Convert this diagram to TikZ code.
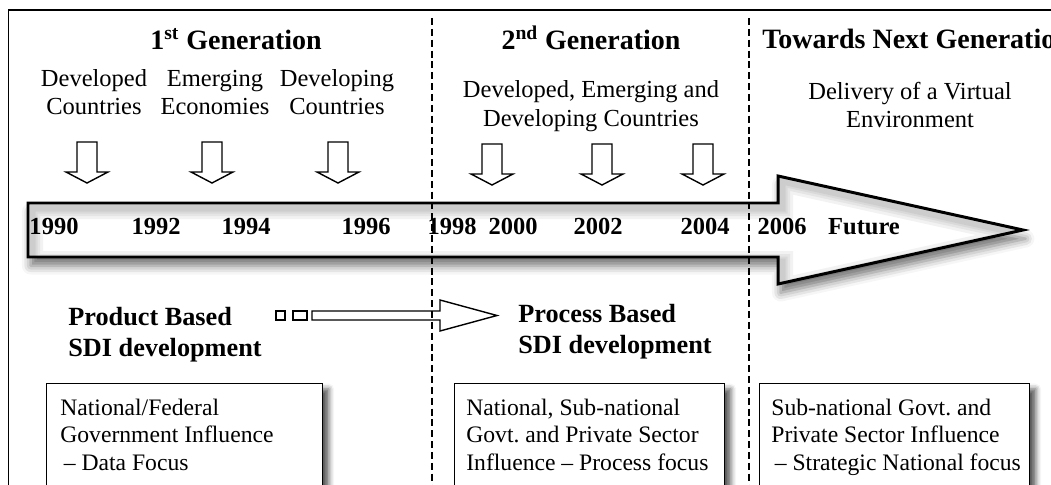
\documentclass[tikz,border=0pt]{standalone}
\usepackage{fontspec}
\setmainfont{Liberation Serif}
\usetikzlibrary{shadows.blur}
\begin{document}
\frenchspacing
\begin{tikzpicture}[x=0.5714pt,y=-0.5714pt,
  frame/.style={line width=1.1pt},
  innerglow/.style={draw=black, opacity=0.05, line join=miter},
  downarr/.style={draw, line width=0.8pt, fill=white},
  stripe/.style={draw, line width=0.8pt, fill=white},
  infobox/.style={draw, line width=0.8pt, fill=white, inner sep=0pt,
    blur shadow={shadow xshift=3.5pt, shadow yshift=-3pt, shadow blur radius=3pt, shadow opacity=65}},
  divider/.style={line width=0.75pt, dash pattern=on 4pt off 2.2pt},
  head/.style={font=\fontsize{16}{19}\selectfont\bfseries, inner sep=0pt},
  sub/.style={font=\fontsize{14}{16}\selectfont, inner sep=0pt, align=center, anchor=base},
  year/.style={font=\fontsize{14}{16}\selectfont\bfseries, inner sep=0pt, anchor=base},
  sdi/.style={font=\fontsize{15}{17.7}\selectfont\bfseries, inner sep=0pt, align=left, anchor=base west},
  boxtext/.style={font=\fontsize{13.5}{15.7}\selectfont, inner sep=0pt, align=left, anchor=base west},
]
\useasboundingbox (0,0) rectangle (1051,485);
\clip (0,0) rectangle (1051,485);

% frame
\draw[frame] (8.5,500) -- (8.5,10) -- (1060,10);

% timeline arrow
\def\arrowpath{(28,203) -- (778,203) -- (778,176) -- (1023,230) -- (778,284) -- (778,257) -- (28,257) -- cycle}
\fill[white, blur shadow={shadow xshift=1.5pt, shadow yshift=-5pt, shadow blur radius=5pt, shadow opacity=55}] \arrowpath;
\begin{scope}
  \clip \arrowpath;
  \foreach \w in {22,16,11,7} {
    \draw[innerglow, line width=\w*0.5714pt, shift={(4,5)}] \arrowpath;
  }
\end{scope}
\draw[line width=1.7pt, line join=miter] \arrowpath;

% down block arrows
\foreach \n/\x/\y in {a1/87/142, a2/212/142, a3/338/142, a4/492/144, a5/602/144, a6/703/144} {
  \coordinate (\n) at (\x,\y);
  \draw[downarr, shift={(\n)}] (-10,0) -- (10,0) -- (10,30) -- (21,30) -- (0,41) -- (-21,30) -- (-10,30) -- cycle;
}

% striped arrow
\coordinate (sa) at (276,315.5);
\draw[stripe] (276,311) rectangle (285,320);
\draw[stripe] (293,311) rectangle (307,320);
\draw[stripe] (312,311) -- (440,311) -- (440,300) -- (497,315.5) -- (440,331) -- (440,320) -- (312,320) -- cycle;

% boxes
\node[infobox, anchor=north west, minimum width=276*0.5714pt, minimum height=160*0.5714pt] (b1) at (46,383) {};
\node[infobox, anchor=north west, minimum width=270*0.5714pt, minimum height=160*0.5714pt] (b2) at (454,383) {};
\node[infobox, anchor=north west, minimum width=270*0.5714pt, minimum height=160*0.5714pt] (b3) at (759,383) {};

% dividers
\draw[divider] (432,18) -- (432,495);
\draw[divider] (749,18) -- (749,495);

% headings
\node[head, anchor=base] (g1) at (236,50) {1\textsuperscript{st} Generation};
\node[head, anchor=base] (g2) at (591,50) {2\textsuperscript{nd} Generation};
\node[head, anchor=base west] (g3) at (762,49) {Towards Next Generation};

% sub texts (base anchor = last line)
\node[sub] (s1) at (94,115) {Developed\\Countries};
\node[sub] (s2) at (215,115) {Emerging\\Economies};
\node[sub] (s3) at (337,115) {Developing\\Countries};
\node[sub, font=\fontsize{14}{17}\selectfont] (s4) at (591,127) {Developed, Emerging and\\Developing Countries};
\node[sub] (s5) at (910,128) {Delivery of a Virtual\\Environment};

% years
\node[year] (y1990) at (54,234) {1990};
\node[year] (y1992) at (156,234) {1992};
\node[year] (y1994) at (246,234) {1994};
\node[year] (y1996) at (366,234) {1996};
\node[year] (y1998) at (452,234) {1998};
\node[year] (y2000) at (513,234) {2000};
\node[year] (y2002) at (598,234) {2002};
\node[year] (y2004) at (705,234) {2004};
\node[year] (y2006) at (782,234) {2006};
\node[year] (fut) at (864,234) {Future};

% SDI labels
\node[sdi] (prod) at (68,356) {Product Based\\SDI development};
\node[sdi] (proc) at (518,353) {Process Based\\SDI development};

% box texts
\node[boxtext] (t1) at (60,470) {National/Federal\\Government Influence\\\hspace*{2pt}\textendash\ Data Focus};
\node[boxtext] (t2) at (466,470) {National, Sub-national\\Govt. and Private Sector\\Influence \textendash\ Process focus};
\node[boxtext] (t3) at (771,470) {Sub-national Govt. and\\Private Sector Influence\\\hspace*{2pt}\textendash\ Strategic National focus};
\end{tikzpicture}
\end{document}
